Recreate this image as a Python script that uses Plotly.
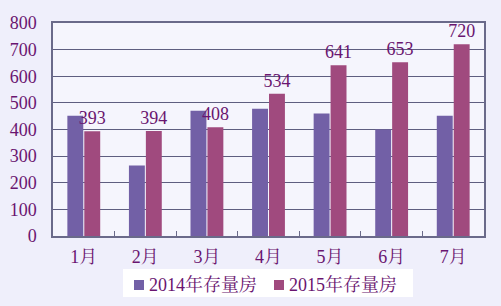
import plotly.graph_objects as go

categories = ["1月", "2月", "3月", "4月", "5月", "6月", "7月"]
series_2014 = [452, 265, 470, 478, 460, 400, 452]
series_2015 = [393, 394, 408, 534, 641, 653, 720]
y_ticks = [0, 100, 200, 300, 400, 500, 600, 700, 800]
series_names = ["2014年存量房", "2015年存量房"]
series_colors = ["#7260a6", "#a04a7e"]

font_family = "Liberation Serif, Noto Serif CJK SC, Noto Sans CJK SC, serif"
text_color = "#6a1570"
fs = 18

# plot area in pixels
L, R, T, B = 53, 484, 23, 236
W, H = 501, 306


def px_x(px):
    return (px - L) / (R - L)


def px_y(py):
    return (B - py) / (B - T)


fig = go.Figure()
fig.add_trace(go.Bar(
    x=categories, y=series_2014, name=series_names[0],
    marker=dict(color=series_colors[0], line=dict(width=0)),
    showlegend=False,
))
fig.add_trace(go.Bar(
    x=categories, y=series_2015, name=series_names[1],
    marker=dict(color=series_colors[1], line=dict(width=0)),
    text=[str(v) for v in series_2015], textposition="outside",
    constraintext="none",
    textfont=dict(size=fs, color=text_color, family=font_family),
    cliponaxis=False, showlegend=False,
))

# custom legend
shapes = [dict(type="rect", xref="paper", yref="paper",
               x0=px_x(123), x1=px_x(413), y0=px_y(297), y1=px_y(269),
               fillcolor="#ffffff", line=dict(width=0), layer="below")]
annotations = []
for i, (mx, tx) in enumerate([(134, 147), (274, 287)]):
    shapes.append(dict(type="rect", xref="paper", yref="paper",
                       x0=px_x(mx), x1=px_x(mx + 10), y0=px_y(290), y1=px_y(280),
                       fillcolor=series_colors[i], line=dict(width=0)))
    annotations.append(dict(xref="paper", yref="paper", x=px_x(tx), y=px_y(284),
                            xanchor="left", yanchor="middle", showarrow=False,
                            text=series_names[i],
                            font=dict(size=fs, color=text_color, family=font_family)))

fig.update_layout(
    width=W, height=H,
    margin=dict(l=L, r=W - R, t=T, b=H - B, autoexpand=False),
    paper_bgcolor="#efeffb",
    plot_bgcolor="#f5f5fd",
    barmode="group", bargap=0.45, bargroupgap=0.06,
    font=dict(family=font_family, size=fs, color=text_color),
    showlegend=False,
    shapes=shapes, annotations=annotations,
    xaxis=dict(
        showline=True, linecolor="#6a6a8a", linewidth=1.5, mirror=True,
        ticks="inside", tickson="boundaries", ticklen=5, tickcolor="#6a6a8a",
        tickfont=dict(size=fs), ticklabelstandoff=4,
    ),
    yaxis=dict(
        range=[0, 800], tickvals=y_ticks, showgrid=True,
        gridcolor="#5e5e80", gridwidth=1,
        showline=True, linecolor="#6a6a8a", linewidth=1.5, mirror=True,
        zeroline=False, ticks="", tickfont=dict(size=fs), ticklabelstandoff=11,
    ),
)
fig.write_html("out.html")
